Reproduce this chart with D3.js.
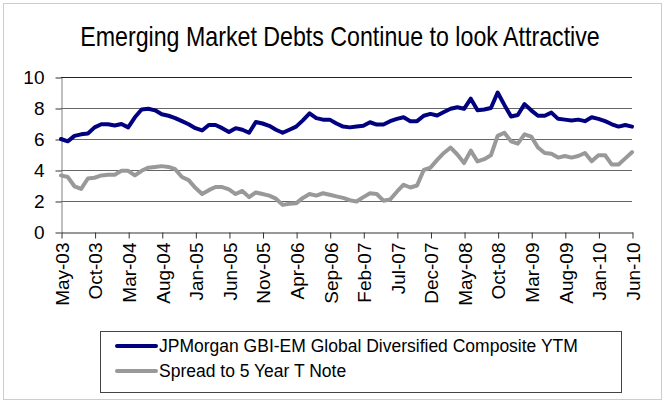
<!DOCTYPE html>
<html>
<head>
<meta charset="utf-8">
<script src="https://cdn.jsdelivr.net/npm/d3@7"></script>
<style>
  html, body { margin: 0; padding: 0; background: #fff; }
  svg { display: block; }
</style>
</head>
<body>
<svg id="chart" width="665" height="404"></svg>
<script>
// Monthly observations, May-03 through Jun-10
const startMonth = new Date(Date.UTC(2003, 4, 1));
const endMonth = new Date(Date.UTC(2010, 5, 2));
const fmtMonth = d3.utcFormat("%b-%y");
const months = d3.utcMonth.range(startMonth, endMonth).map(fmtMonth);

// JPMorgan GBI-EM Global Diversified Composite yield to maturity (%)
const ytm = [
  6.0, 5.85, 6.2, 6.3, 6.35, 6.75, 6.95, 6.95, 6.87, 6.97,
  6.75, 7.4, 7.9, 7.95, 7.85, 7.6, 7.5, 7.35, 7.15, 6.95,
  6.7, 6.55, 6.9, 6.9, 6.7, 6.45, 6.7, 6.6, 6.4, 7.1,
  7.0, 6.85, 6.6, 6.4, 6.6, 6.8, 7.2, 7.65, 7.35, 7.25,
  7.25, 7.0, 6.8, 6.75, 6.8, 6.85, 7.08, 6.93, 6.93, 7.15,
  7.3, 7.4, 7.15, 7.15, 7.5, 7.62, 7.52, 7.74, 7.95, 8.05,
  7.95, 8.6, 7.85, 7.9, 8.0, 9.0, 8.2, 7.45, 7.55, 8.25,
  7.85, 7.5, 7.5, 7.7, 7.3, 7.25, 7.2, 7.25, 7.15, 7.4,
  7.3, 7.15, 6.95, 6.8, 6.9, 6.8
];

// Spread over the 5-year Treasury note (%)
const spread = [
  3.65, 3.55, 2.95, 2.78, 3.45, 3.5, 3.65, 3.7, 3.7, 3.95,
  3.95, 3.65, 3.95, 4.15, 4.2, 4.25, 4.2, 4.05, 3.55, 3.35,
  2.85, 2.45, 2.7, 2.9, 2.9, 2.75, 2.45, 2.65, 2.25, 2.55,
  2.45, 2.35, 2.15, 1.75, 1.82, 1.85, 2.2, 2.45, 2.35, 2.5,
  2.4, 2.3, 2.2, 2.05, 1.97, 2.25, 2.5, 2.45, 2.02, 2.1,
  2.6, 3.05, 2.87, 3.0, 4.0, 4.15, 4.65, 5.1, 5.45, 5.0,
  4.45, 5.25, 4.55, 4.7, 4.95, 6.2, 6.4, 5.85, 5.7, 6.3,
  6.15, 5.45, 5.1, 5.05, 4.8, 4.9, 4.8, 4.9, 5.1, 4.57,
  4.95, 4.95, 4.35, 4.35, 4.75, 5.15
];

const xTickLabels = [
  "May-03", "Oct-03", "Mar-04", "Aug-04", "Jan-05", "Jun-05", "Nov-05",
  "Apr-06", "Sep-06", "Feb-07", "Jul-07", "Dec-07", "May-08", "Oct-08",
  "Mar-09", "Aug-09", "Jan-10", "Jun-10"
];
const yTickValues = [0, 2, 4, 6, 8, 10];

const seriesNames = [
  "JPMorgan GBI-EM Global Diversified Composite YTM",
  "Spread to 5 Year T Note"
];
const seriesColors = ["#000080", "#999999"];

const svg = d3.select("#chart");
const font = "'Liberation Sans', Arial, sans-serif";

// outer dotted frame
svg.append("rect")
  .attr("x", 3.5).attr("y", 3.5)
  .attr("width", 658).attr("height", 396)
  .attr("fill", "none")
  .attr("stroke", "#9a9a9a")
  .attr("stroke-dasharray", "1,1");

// title, horizontally condensed to a narrow face
const titleWidth = 520;
const titleCenter = 340;
const title = svg.append("text")
  .attr("x", 0).attr("y", 0)
  .attr("text-anchor", "middle")
  .attr("font-family", "'Liberation Sans Narrow', 'Arial Narrow', 'Liberation Sans', sans-serif")
  .attr("font-size", 27)
  .attr("fill", "#000")
  .text("Emerging Market Debts Continue to look Attractive");
const naturalWidth = title.node().getComputedTextLength();
title.attr("transform", `translate(${titleCenter},46) scale(${titleWidth / naturalWidth},1)`);

const x = d3.scalePoint().domain(months).range([61, 632]);
const y = d3.scaleLinear().domain([0, 10]).range([232, 77]);

// horizontal gridlines
svg.append("g")
  .selectAll("line")
  .data(yTickValues.filter(v => v > 0))
  .join("line")
  .attr("x1", 61).attr("x2", 632)
  .attr("y1", d => Math.round(y(d)) + 0.5)
  .attr("y2", d => Math.round(y(d)) + 0.5)
  .attr("stroke", d => d === 10 ? "#222" : "#666")
  .attr("stroke-width", 1);

// y axis
const yAxis = svg.append("g")
  .attr("transform", "translate(61.5,0.5)")
  .call(d3.axisLeft(y).tickValues(yTickValues).tickSize(6).tickPadding(11).tickSizeOuter(0));
yAxis.select(".domain").attr("stroke", "#808080");
yAxis.selectAll(".tick line").attr("stroke", "#333");
yAxis.selectAll(".tick text")
  .attr("font-family", font).attr("font-size", 19).attr("fill", "#000");

// x axis
const xAxis = svg.append("g")
  .attr("transform", `translate(0.5,${Math.round(y(0)) + 0.5})`)
  .call(d3.axisBottom(x).tickValues(xTickLabels).tickSize(6).tickSizeOuter(0));
xAxis.select(".domain").attr("stroke", "#333");
xAxis.selectAll(".tick line").attr("stroke", "#333");
xAxis.selectAll(".tick text")
  .attr("font-family", font).attr("font-size", 19).attr("fill", "#000")
  .attr("text-anchor", "end")
  .attr("transform", "rotate(-90)")
  .attr("x", -10).attr("y", 0).attr("dy", "0.36em");

// series lines
const line = d3.line()
  .x((d, i) => x(months[i]))
  .y(d => y(d));

[ytm, spread].forEach((vals, k) => {
  svg.append("path")
    .datum(vals)
    .attr("d", line)
    .attr("fill", "none")
    .attr("stroke", seriesColors[k])
    .attr("stroke-width", 4)
    .attr("stroke-linejoin", "round")
    .attr("stroke-linecap", "round");
});

// legend
const legend = svg.append("g");
legend.append("rect")
  .attr("x", 100.5).attr("y", 331.5)
  .attr("width", 521).attr("height", 61)
  .attr("fill", "#fff")
  .attr("stroke", "#444");
seriesNames.forEach((name, k) => {
  const cy = 346 + k * 25;
  legend.append("line")
    .attr("x1", 117).attr("x2", 156)
    .attr("y1", cy).attr("y2", cy)
    .attr("stroke", seriesColors[k])
    .attr("stroke-width", 4)
    .attr("stroke-linecap", "round");
  legend.append("text")
    .attr("x", 159).attr("y", cy).attr("dy", "0.36em")
    .attr("font-family", font).attr("font-size", 17.5)
    .attr("fill", "#000")
    .text(name);
});
</script>
</body>
</html>
